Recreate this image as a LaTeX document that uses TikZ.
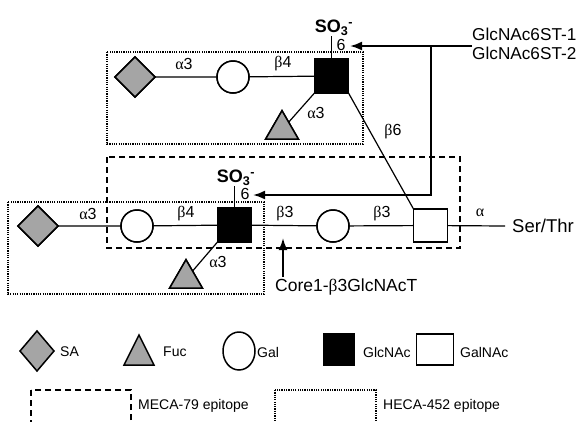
\documentclass[tikz,border=0pt]{standalone}
\usepackage{fontspec}
\setmainfont{Liberation Sans}
\newfontfamily\grk{Liberation Serif}
\usetikzlibrary{shapes.geometric,arrows.meta}
\definecolor{sugargray}{RGB}{165,165,165}
\begin{document}
\begin{tikzpicture}[x=1pt,y=-1pt,
  link/.style={line width=1.2pt},
  shp/.style={draw,line width=1.5pt,inner sep=0pt,outer sep=0pt},
  sa/.style={shp,diamond,fill=sugargray,minimum width=40pt,minimum height=40pt},
  fuc/.style={shp,regular polygon,regular polygon sides=3,fill=sugargray,minimum size=38pt},
  gal/.style={shp,circle,fill=white,minimum size=32pt},
  glc/.style={shp,rectangle,fill=black,minimum width=34pt,minimum height=34pt},
  galnac/.style={shp,rectangle,fill=white,minimum width=34pt,minimum height=33pt},
  lbl/.style={inner sep=0pt,font=\fontsize{16}{18}\selectfont},
  big/.style={inner sep=0pt,font=\fontsize{17.5}{22}\selectfont},
  leg/.style={inner sep=0pt,font=\fontsize{14}{16}\selectfont,anchor=west},
  sulf/.style={inner sep=0pt,font=\fontsize{18}{20}\selectfont\bfseries,anchor=south},
  enz/.style={line width=2pt,-{Latex[length=12pt,width=9pt]}},
  meca/.style={line width=1.5pt,dash pattern=on 6pt off 4pt},
  heca/.style={line width=1.5pt,dash pattern=on 1.2pt off 1.1pt}
]
\clip (0,0) rectangle (580,421);

% ---- top chain
\node[sa] (d1) at (135,77) {};
\node[gal] (g1) at (233,77) {};
\node[glc] (n1) at (331.5,76) {};
\node[fuc] (f1) at (282,129.7) {};
\draw[link] (d1) -- (g1) -- (n1);
\draw[link] (n1.south west) -- (f1);

% ---- bottom chain
\node[sa] (d2) at (38,226) {};
\node[gal] (g2) at (137,226) {};
\node[glc] (n2) at (234.5,225) {};
\node[fuc] (f2) at (186,278.7) {};
\node[gal] (g3) at (333,226) {};
\node[galnac] (a1) at (430.5,225.5) {};
\coordinate (st) at (505,226);
\draw[link] (d2) -- (g2) -- (n2) -- (g3) -- (a1) -- (st);
\draw[link] (n2.south west) -- (f2);
\draw[link] (n1.south east) -- (a1.north west);

% ---- sulfates
\node[sulf] (s1) at (334,36) {SO\textsubscript{3}\textsuperscript{-}};
\node[sulf] (s2) at (236,186) {SO\textsubscript{3}\textsuperscript{-}};
\draw[link] (s1.south -| n1) -- (n1.north);
\draw[link] (s2.south -| n2) -- (n2.north);

% ---- boxes
\draw[heca] (107,52) rectangle (363,144);
\draw[heca] (8,202) rectangle (264,294);
\draw[meca] (107,157) rectangle (460,248);

% redraw shapes above boxes
\node[sa] at (d1) {};
\node[gal] at (g1) {};
\node[glc] at (n1) {};
\node[fuc] at (f1) {};
\node[sa] at (d2) {};
\node[gal] at (g2) {};
\node[glc] at (n2) {};
\node[fuc] at (f2) {};
\node[gal] at (g3) {};
\node[galnac] at (a1) {};

% ---- linkage labels
\node[lbl] (l1) at (184,64) {{\grk α}3};
\node[lbl] (l2) at (283,64) {{\grk β}4};
\node[lbl] (l3) at (316,113) {{\grk α}3};
\node[lbl] (l4) at (393,132) {{\grk β}6};
\node[lbl] (l5) at (341,45) {6};
\node[lbl] (l6) at (88,214) {{\grk α}3};
\node[lbl] (l7) at (186,214) {{\grk β}4};
\node[lbl] (l8) at (218,262) {{\grk α}3};
\node[lbl] (l9) at (285,214) {{\grk β}3};
\node[lbl] (l10) at (382,214) {{\grk β}3};
\node[lbl] (l11) at (480,213) {{\grk α}};
\node[lbl] (l12) at (245,194) {6};

% ---- texts and enzyme arrows
\node[big,anchor=west,font=\fontsize{18.5}{22}\selectfont] (ser) at (512,226) {Ser/Thr};
\node[big,anchor=west,align=left,font=\fontsize{17.2}{18.5}\selectfont] (gst) at (472,44) {GlcNAc6ST-1\\GlcNAc6ST-2};
\node[big,anchor=west] (core) at (275,287) {Core1-{\grk β}3GlcNAcT};
\coordinate (t1) at (350,46);
\coordinate (c1) at (431,46);
\coordinate (c2) at (431,195);
\coordinate (t2) at (253,195);
\draw[enz] (gst.west |- t1) -- (t1);
\draw[enz] (c1) -- (c2) -- (t2);
\coordinate (b1) at (283,277);
\coordinate (b2) at (283,238);
\draw[enz] (b1) -- (b2);

% ---- legend
\node[shp,diamond,fill=sugargray,minimum width=34pt,minimum height=40pt] (ksa) at (37,351) {};
\node[leg] (tsa) at (60,352) {SA};
\begin{scope}[shift={(139,355)},yscale=1.155]
\node[shp,regular polygon,regular polygon sides=3,fill=sugargray,minimum size=34.6pt,transform shape] (kfuc) at (0,0) {};
\end{scope}
\node[leg] (tfuc) at (163,352) {Fuc};
\node[shp,ellipse,fill=white,minimum width=32pt,minimum height=38pt] (kgal) at (239,351) {};
\node[leg] (tgal) at (257,352) {Gal};
\node[shp,rectangle,fill=black,minimum width=30pt,minimum height=31pt] (kglc) at (339,349.5) {};
\node[leg] (tglc) at (363,352) {GlcNAc};
\node[shp,rectangle,fill=white,minimum width=37pt,minimum height=31pt] (kgalnac) at (435,349.5) {};
\node[leg] (tgalnac) at (460,352) {GalNAc};
\draw[meca] (31,390) rectangle (131,440);
\node[leg] (tmeca) at (138,406) {MECA-79 epitope};
\draw[heca] (275,390) rectangle (376,440);
\node[leg] (theca) at (383,406) {HECA-452 epitope};
\end{tikzpicture}
\end{document}
